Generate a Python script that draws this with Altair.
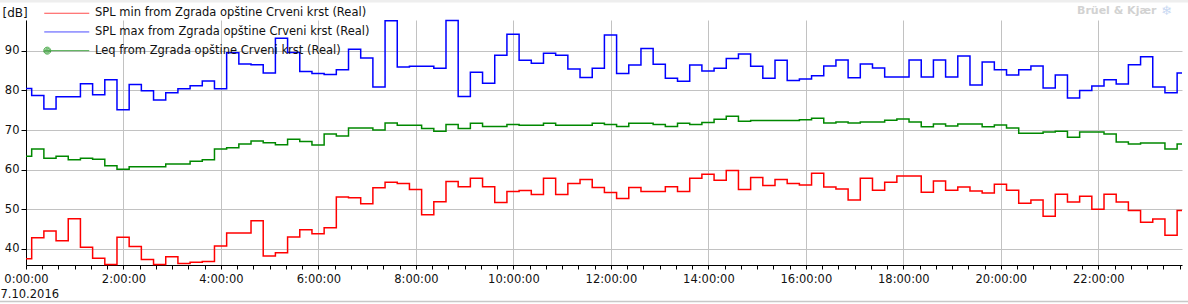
import altair as alt
import pandas as pd

# ---- data (dB), 15-minute steps ----
spl_max = [80.5, 78.7, 75.3, 78.4, 78.4, 81.7, 78.9, 82.7, 75.1, 81.5,
           79.9, 77.6, 79.4, 80.4, 81.2, 82.4, 80.4, 89.5, 86.7, 86.5,
           84.4, 93.2, 89.6, 84.8, 84.3, 84.0, 85.2, 90.4, 88.2, 80.9,
           97.6, 85.9, 86.1, 86.1, 85.6, 97.7, 78.5, 84.6, 81.8, 88.9,
           94.2, 87.6, 86.9, 89.4, 88.9, 85.4, 83.3, 85.6, 94.0, 84.3,
           86.4, 90.6, 86.6, 83.1, 82.3, 86.4, 84.9, 85.6, 88.1, 89.2,
           86.1, 83.1, 87.6, 82.5, 82.9, 83.7, 86.2, 87.7, 83.2, 86.7,
           85.7, 83.4, 83.4, 87.7, 83.4, 87.7, 83.4, 88.7, 81.4, 87.2,
           85.2, 83.9, 85.2, 86.2, 80.6, 83.9, 78.1, 80.0, 81.1, 82.7,
           81.6, 86.5, 88.5, 80.9, 79.4, 84.4]

leq = [63.4, 65.2, 62.9, 63.4, 62.5, 62.9, 62.6, 61.0, 60.1, 60.7,
       60.7, 60.7, 61.4, 61.4, 62.1, 62.5, 65.2, 65.5, 66.5, 67.2,
       66.8, 66.3, 67.7, 67.1, 66.2, 69.0, 68.5, 70.5, 70.5, 70.0,
       71.8, 71.2, 71.2, 70.4, 69.7, 71.4, 70.4, 71.7, 70.9, 70.9,
       71.4, 71.2, 71.2, 71.7, 71.2, 71.2, 71.2, 71.7, 71.4, 70.9,
       71.7, 71.7, 71.4, 70.9, 71.7, 71.4, 71.9, 72.7, 73.5, 72.2,
       72.4, 72.4, 72.4, 72.4, 72.6, 73.0, 71.8, 72.0, 71.8, 72.0,
       72.0, 72.5, 72.8, 72.0, 70.8, 71.5, 71.0, 71.5, 71.5, 70.8,
       71.3, 70.5, 69.2, 69.2, 69.5, 69.7, 68.2, 69.5, 69.5, 69.0,
       67.0, 66.5, 66.7, 66.7, 65.2, 66.5]

spl_min = [37.5, 42.8, 44.5, 42.0, 47.6, 40.4, 37.6, 36.0, 42.9, 40.6,
           37.3, 36.05, 38.0, 36.3, 36.6, 36.8, 40.7, 44.0, 44.0, 47.1,
           38.2, 39.0, 43.0, 44.8, 43.8, 45.3, 53.1, 52.9, 51.4, 55.4,
           56.8, 56.5, 55.0, 48.6, 51.9, 57.0, 55.7, 57.8, 55.7, 51.7,
           54.5, 54.7, 53.7, 57.8, 53.7, 56.5, 57.5, 55.5, 54.2, 52.7,
           55.5, 54.5, 54.5, 55.7, 54.5, 57.8, 58.8, 57.3, 59.8, 55.0,
           58.0, 56.0, 57.5, 56.5, 56.1, 59.1, 55.6, 55.1, 52.3, 57.8,
           54.8, 56.8, 58.4, 58.4, 54.3, 57.1, 54.8, 55.6, 54.6, 54.1,
           56.3, 54.8, 51.5, 52.3, 48.2, 53.8, 51.8, 53.3, 50.0, 53.8,
           51.8, 49.7, 46.7, 47.5, 43.4, 49.7]

series_labels = ["SPL min from Zgrada opštine Crveni krst (Real)",
                 "SPL max from Zgrada opštine Crveni krst (Real)",
                 "Leq from Zgrada opštine Crveni krst (Real)"]
series_colors = ["#ff0000", "#0000ff", "#008800"]

first_step_min = 7      # first measurement boundary (minutes after midnight)
interval_min = 15       # measurement interval
end_min = 1423          # end of the displayed range (minutes)
date_label = "7.10.2016"

starts = [0] + [first_step_min + interval_min * i for i in range(len(spl_max) - 1)]
times = starts + [end_min]

rows = []
for name, vals in zip(series_labels, [spl_min, spl_max, leq]):
    for t, v in zip(times, vals + [vals[-1]]):
        rows.append({"series": name, "t": t, "v": v})
df = pd.DataFrame(rows)

FONT = "DejaVu Sans"
TXT = "#111111"
GRID = "#c2c2c2"

x_scale = alt.Scale(domain=[0, end_min], nice=False, zero=False)
y_scale = alt.Scale(domain=[35.9, 97.8], nice=False, zero=False)

x_axis = alt.Axis(
    values=list(range(0, end_min, 20)),
    tickCount=200,
    labelExpr="datum.value % 120 === 0 ? floor(datum.value / 60) + ':00:00' : ''",
    grid=True,
    gridColor=GRID,
    gridOpacity={"condition": {"test": "datum.value % 120 === 0", "value": 1}, "value": 0},
    domainColor="#000000",
    tickColor="#000000",
    tickSize=4,
    labelPadding=4,
    labelFlush=False,
    labelOverlap=False,
    labelFont=FONT,
    labelFontSize=11.5,
    labelColor=TXT,
    title=None,
)

y_axis = alt.Axis(
    values=[40, 50, 60, 70, 80, 90],
    grid=True,
    gridColor=GRID,
    domainColor="#000000",
    tickColor="#000000",
    tickSize=5,
    labelPadding=2,
    labelFont=FONT,
    labelFontSize=11.5,
    labelColor=TXT,
    title="[dB]",
    titleAngle=0,
    titleAlign="left",
    titleBaseline="alphabetic",
    titleX=-24,
    titleY=-4,
    titleFont=FONT,
    titleFontSize=12,
    titleFontWeight="normal",
    titleColor=TXT,
)

line_layers = []
for name, col in zip(series_labels, series_colors):
    line_layers.append(
        alt.Chart(df).transform_filter(alt.datum.series == name)
        .mark_line(interpolate="step-after", strokeWidth=1.5, color=col)
        .encode(
            x=alt.X("t:Q", scale=x_scale, axis=x_axis),
            y=alt.Y("v:Q", scale=y_scale, axis=y_axis),
        )
    )

line_path = "M-4.5,0H4.5"
leq_path = ("M-4.5,0H4.5"
            "M-4.6,0a0.7,0.7 0 1,0 1.4,0a0.7,0.7 0 1,0 -1.4,0"
            "M-4.4,0a0.5,0.5 0 1,0 1,0a0.5,0.5 0 1,0 -1,0"
            "M-4.2,0a0.3,0.3 0 1,0 0.6,0a0.3,0.3 0 1,0 -0.6,0"
            "M-4.0,0a0.1,0.1 0 1,0 0.2,0a0.1,0.1 0 1,0 -0.2,0")

leg = dict(
    title=None,
    orient="none",
    legendX=35,
    legendY=-12.5,
    padding=0,
    symbolSize=100,
    symbolStrokeWidth=1,
    labelOffset=22.5,
    labelFont=FONT,
    labelFontSize=11.5,
    labelColor=TXT,
    labelLimit=0,
    rowPadding=5.7,
)

legend_layer = alt.Chart(df).transform_filter("false").mark_point(filled=False, size=100).encode(
    x=alt.X("t:Q", scale=x_scale, axis=x_axis),
    y=alt.Y("v:Q", scale=y_scale, axis=y_axis),
    color=alt.Color("series:N", scale=alt.Scale(domain=series_labels, range=series_colors),
                    legend=alt.Legend(**leg)),
    shape=alt.Shape("series:N", scale=alt.Scale(domain=series_labels, range=[line_path, line_path, leq_path]),
                    legend=alt.Legend(**leg)),
)

one = alt.Data(values=[{"k": 1}])
date_text = alt.Chart(one).mark_text(text=date_label, font=FONT, fontSize=11.5, color=TXT,
                                     align="left", baseline="alphabetic").encode(
    x=alt.value(-25.5), y=alt.value(278))
brand = alt.Chart(one).mark_text(text="Brüel & Kjær", font=FONT, fontSize=11, fontWeight="bold",
                                 color="#d2d2d2", align="left", baseline="middle").encode(
    x=alt.value(1051), y=alt.value(-9))
logo = alt.Chart(one).mark_text(text="❄", font=FONT, fontSize=13, color="#c9d9f2",
                                align="left", baseline="middle").encode(
    x=alt.value(1135), y=alt.value(-9))
bottom_line = alt.Chart(one).mark_rule(color="#c8c8c8", strokeWidth=1.5).encode(
    x=alt.value(-26), x2=alt.value(1162), y=alt.value(281.5))
top_band = alt.Chart(one).mark_rule(color="#eeeeee", strokeWidth=2.5).encode(
    x=alt.value(-26), x2=alt.value(1162), y=alt.value(-18.8))

chart = alt.layer(top_band, bottom_line, *line_layers, legend_layer, date_text, brand, logo).properties(
    width=1156,
    height=245,
    autosize=alt.AutoSizeParams(type="none"),
    padding={"left": 26, "top": 20, "right": 6, "bottom": 39},
    background="#ffffff",
).configure_view(stroke=None)

chart.save("out.html", embed_options={"renderer": "svg", "actions": False})
